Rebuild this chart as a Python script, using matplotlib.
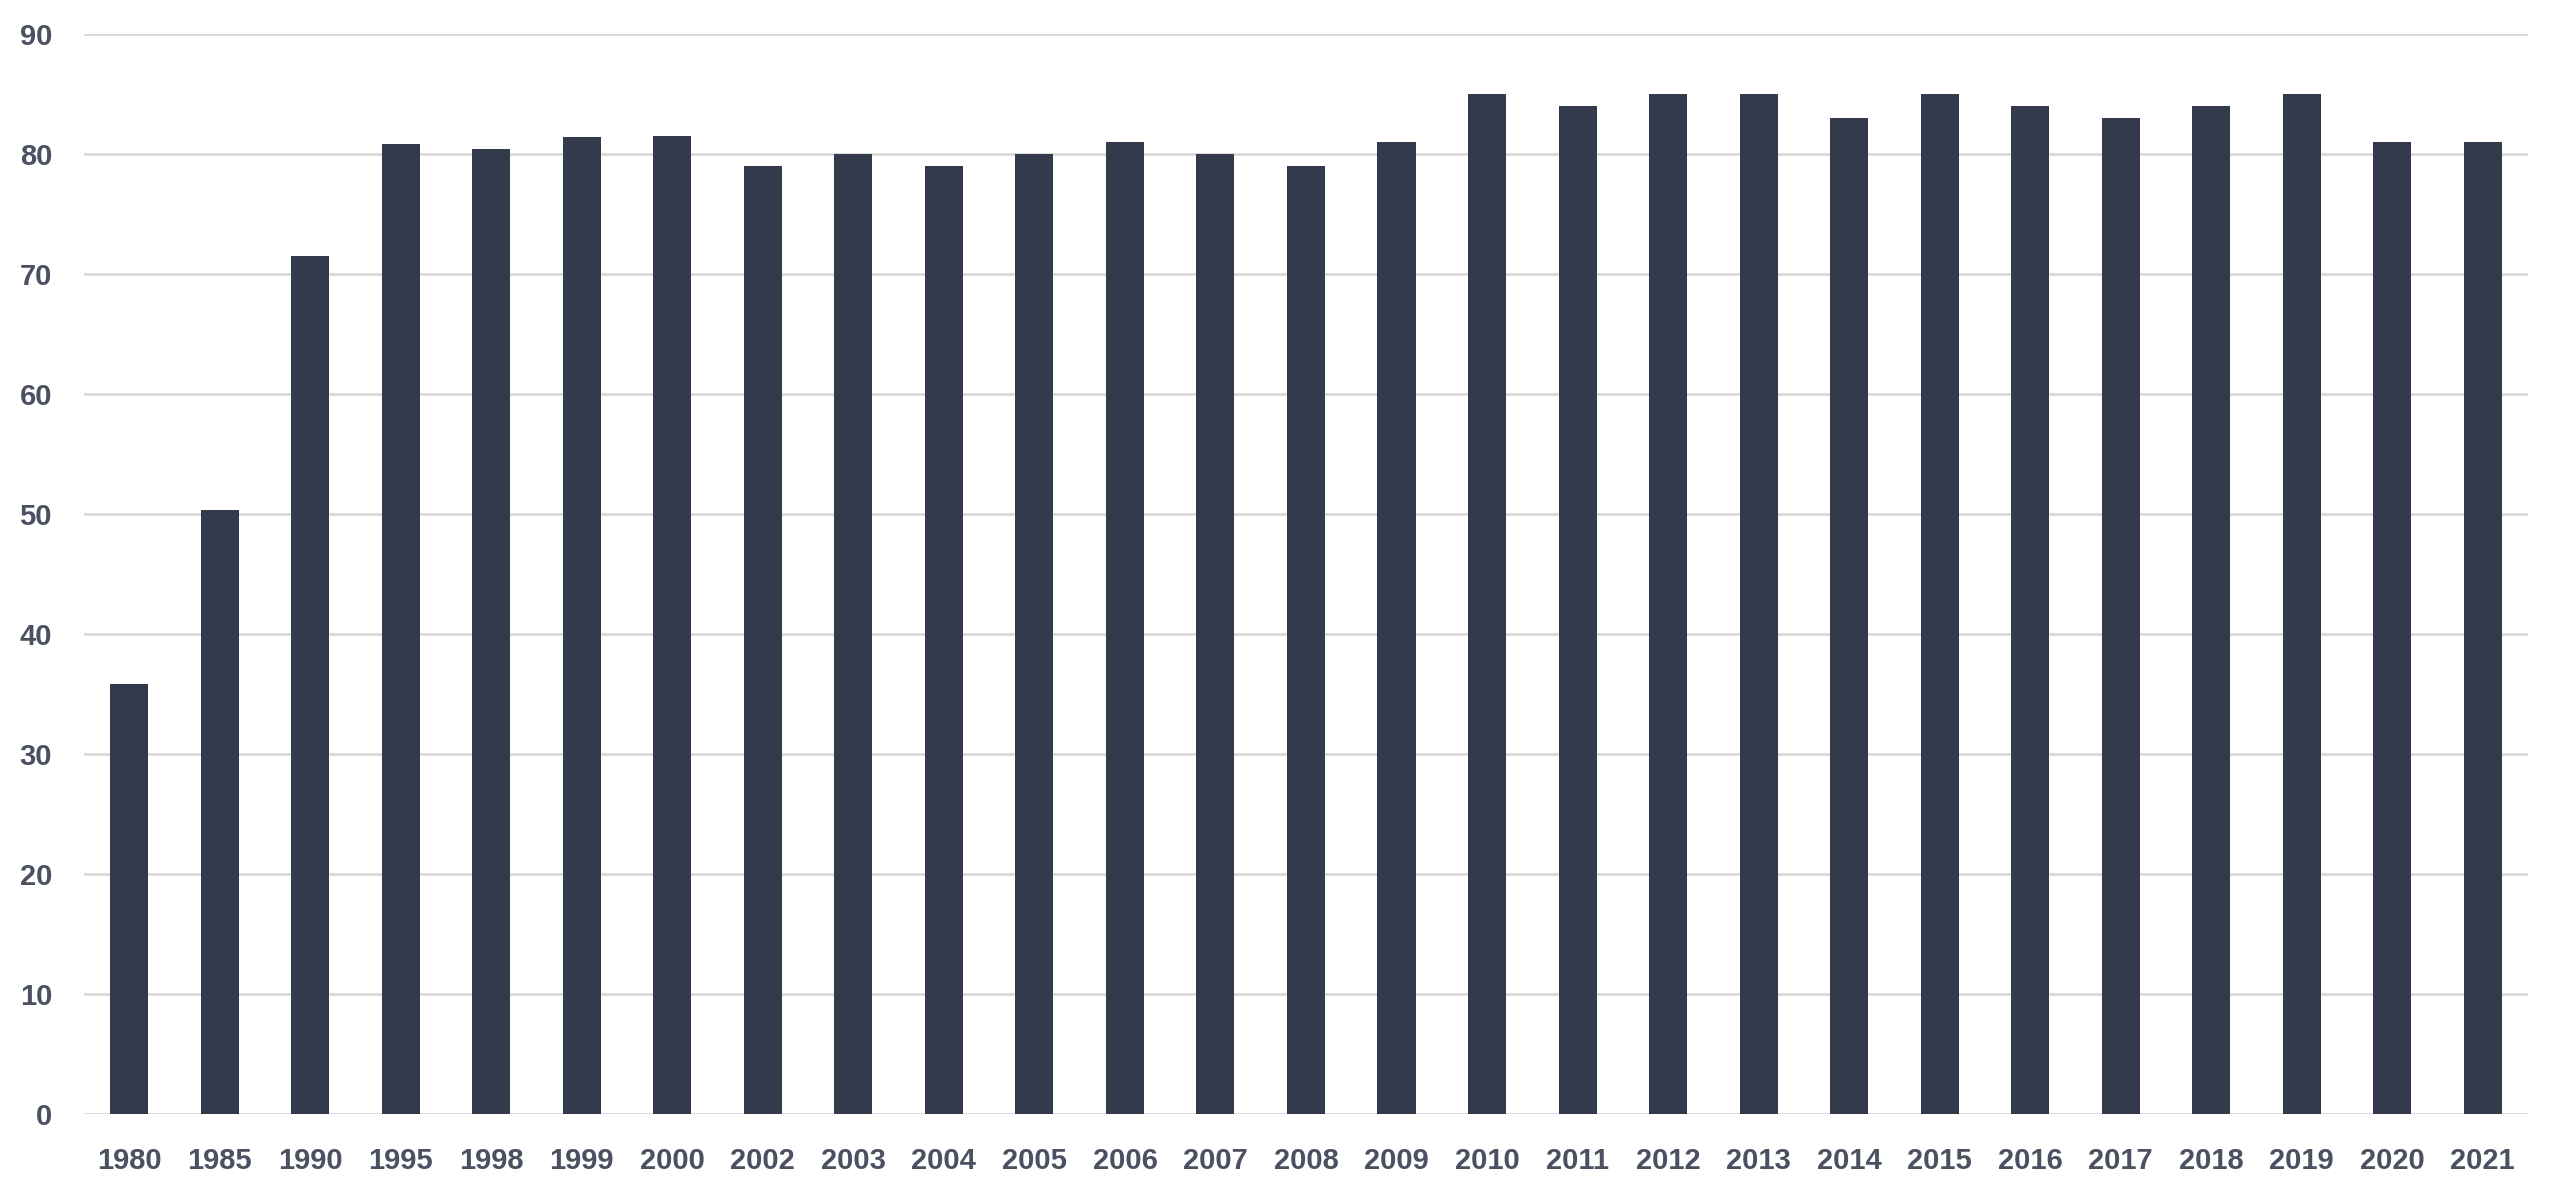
import numpy as np
from matplotlib import pyplot as plt

years = ['1980', '1985', '1990', '1995', '1998', '1999', '2000', '2002', '2003',
         '2004', '2005', '2006', '2007', '2008', '2009', '2010', '2011', '2012',
         '2013', '2014', '2015', '2016', '2017', '2018', '2019', '2020', '2021']
values = [35.8, 50.3, 71.5, 80.8, 80.4, 81.4, 81.5, 79, 80,
          79, 80, 81, 80, 79, 81, 85, 84, 85,
          85, 83, 85, 84, 83, 84, 85, 81, 81]
yticks = [0, 10, 20, 30, 40, 50, 60, 70, 80, 90]

bar_color = '#323a4c'
text_color = '#4b5161'
grid_color = '#d9d9d9'

fig = plt.figure(figsize=(25.6, 11.95), dpi=100)
ax = fig.add_axes([0.0328, 0.0678, 0.9547, 0.9037])

x = np.arange(len(years))
ax.bar(x, values, width=0.42, color=bar_color, zorder=3)

ax.set_xlim(-0.5, len(years) - 0.5)
ax.set_ylim(0, 90)
ax.set_yticks(yticks)
ax.set_xticks(x)
ax.set_xticklabels(years)

ax.grid(axis='y', color=grid_color, linewidth=2, zorder=0)
for s in ax.spines.values():
    s.set_visible(False)
ax.tick_params(axis='both', length=0, labelsize=21, labelcolor=text_color)
ax.tick_params(axis='x', pad=24)
ax.tick_params(axis='y', pad=23)
for lab in ax.get_xticklabels() + ax.get_yticklabels():
    lab.set_fontfamily(['Liberation Sans', 'DejaVu Sans'])
    lab.set_fontweight('bold')

fig.savefig('out.png', dpi=100)
